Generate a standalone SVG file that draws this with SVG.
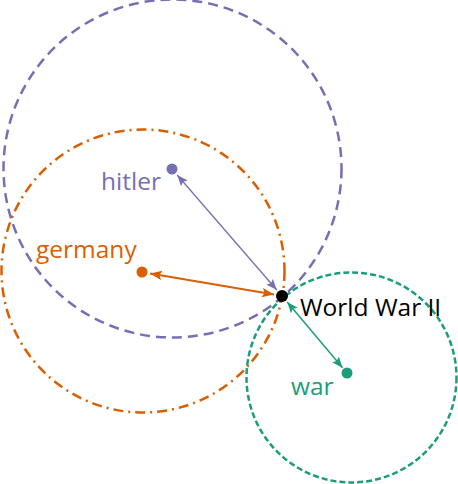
<svg xmlns="http://www.w3.org/2000/svg" width="458" height="484" viewBox="0 0 458 484">
<defs>
<style>
.lbl{font-family:"Open Sans","Noto Sans","Liberation Sans",sans-serif;font-size:24.5px}
.ring{fill:none}
</style>
<marker id="ap" viewBox="0 0 10 8" refX="10" refY="4" markerWidth="11" markerHeight="9" markerUnits="userSpaceOnUse" orient="auto-start-reverse"><path d="M0,0 L10,4 L0,8 L2,4 z" fill="#7570b3"/></marker>
<marker id="ao" viewBox="0 0 10 8" refX="10" refY="4" markerWidth="12" markerHeight="10" markerUnits="userSpaceOnUse" orient="auto-start-reverse"><path d="M0,0 L10,4 L0,8 L2,4 z" fill="#d95f02"/></marker>
<marker id="ag" viewBox="0 0 10 8" refX="10" refY="4" markerWidth="11" markerHeight="9" markerUnits="userSpaceOnUse" orient="auto-start-reverse"><path d="M0,0 L10,4 L0,8 L2,4 z" fill="#1b9e77"/></marker>
</defs>
<g id="circles">
<circle class="ring" cx="172.5" cy="168.5" r="169" stroke="#7570b3" stroke-width="2.5" stroke-dasharray="10,6"/>
<circle class="ring" cx="143" cy="271" r="141.5" stroke="#d95f02" stroke-width="2.5" stroke-dasharray="10,5,2,5"/>
<circle class="ring" cx="351.5" cy="377.5" r="105" stroke="#1b9e77" stroke-width="2.5" stroke-dasharray="6,3"/>
</g>
<g id="connectors">
<line x1="177.2" y1="175" x2="276.8" y2="290" stroke="#7570b3" stroke-width="1.3" marker-start="url(#ap)" marker-end="url(#ap)"/>
<line x1="150" y1="273.4" x2="274" y2="294.6" stroke="#d95f02" stroke-width="2" marker-start="url(#ao)" marker-end="url(#ao)"/>
<line x1="287.2" y1="302.1" x2="342.5" y2="367.7" stroke="#1b9e77" stroke-width="1.5" marker-start="url(#ag)" marker-end="url(#ag)"/>
</g>
<g id="hitler">
<circle cx="172" cy="169" r="5.5" fill="#7570b3"/>
<text class="lbl" x="101" y="190" fill="#7570b3">hitler</text>
</g>
<g id="germany">
<circle cx="142" cy="272" r="5.5" fill="#d95f02"/>
<text class="lbl" x="36" y="258" fill="#d95f02">germany</text>
</g>
<g id="war">
<circle cx="347" cy="373" r="5.5" fill="#1b9e77"/>
<text class="lbl" x="291" y="395" fill="#1b9e77">war</text>
</g>
<g id="wwii">
<circle cx="282" cy="296" r="6" fill="#000"/>
<text class="lbl" x="300" y="316" fill="#000">World War II</text>
</g>
</svg>
